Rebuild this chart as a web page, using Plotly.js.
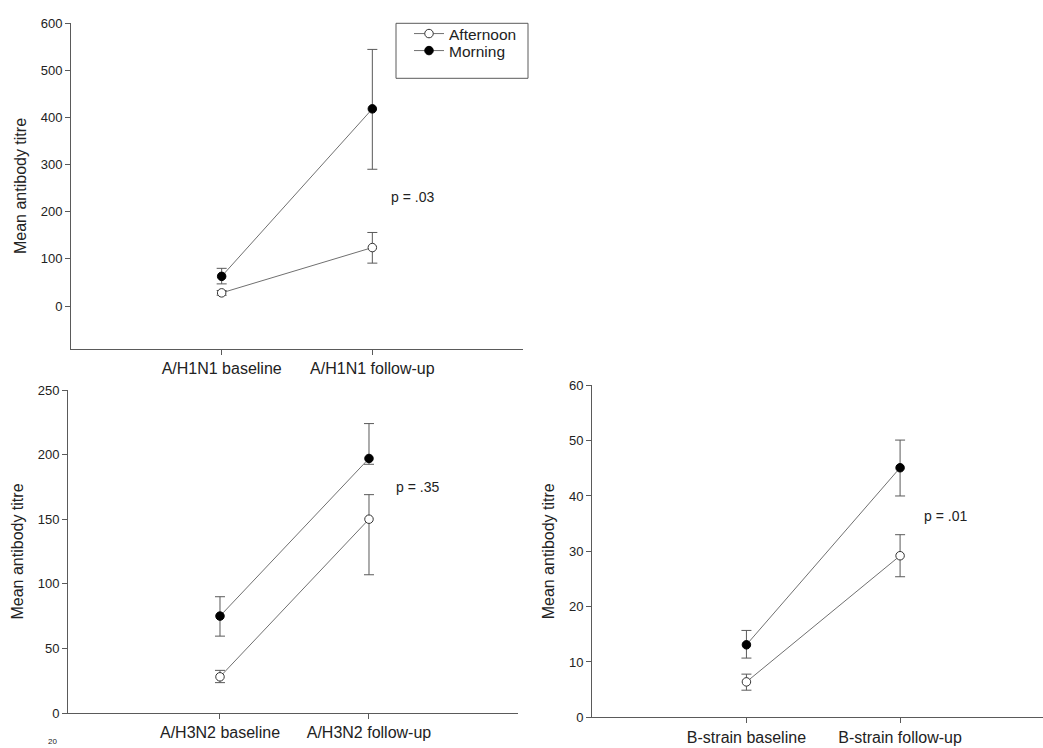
<!DOCTYPE html>
<html>
<head>
<meta charset="utf-8">
<script src="https://cdn.plot.ly/plotly-3.0.1.min.js"></script>
<style>html,body{margin:0;padding:0;background:#fff;}#chart{width:1043px;height:748px;}</style>
</head>
<body>
<div id="chart"></div>
<script>
// ---- data ----
const seriesNames = ["Afternoon", "Morning"];
const catPos = [0, 1];

const h1n1Labels = ["A/H1N1 baseline", "A/H1N1 follow-up"];
const h1n1Afternoon = [28, 124];
const h1n1AfternoonUpper = [33, 156];
const h1n1AfternoonLower = [23, 91];
const h1n1Morning = [63, 418];
const h1n1MorningUpper = [80, 544];
const h1n1MorningLower = [47, 290];

const h3n2Labels = ["A/H3N2 baseline", "A/H3N2 follow-up"];
const h3n2Afternoon = [28, 150];
const h3n2AfternoonUpper = [33, 169];
const h3n2AfternoonLower = [23.5, 107];
const h3n2Morning = [75, 197];
const h3n2MorningUpper = [90, 224];
const h3n2MorningLower = [59.5, 192.5];

const bLabels = ["B-strain baseline", "B-strain follow-up"];
const bAfternoon = [6.4, 29.2];
const bAfternoonUpper = [7.8, 33];
const bAfternoonLower = [4.9, 25.4];
const bMorning = [13.1, 45.1];
const bMorningUpper = [15.7, 50.1];
const bMorningLower = [10.7, 40];

const pLabels = ["p = .03", "p = .35", "p = .01"];
const yTitle = "Mean antibody titre";

// ---- build ----
const W = 1043, H = 748;
const px = v => v / W;
const py = v => 1 - v / H;
const FONT = "Liberation Sans, Arial, sans-serif";
const TXT = "#222";
const GRAY = "#5a5a5a";

function mk(y, up, lo, name, xa, ya, legendId) {
  const filled = name === "Morning";
  const t = {
    x: catPos, y: y, type: "scatter", mode: "lines+markers", name: name,
    xaxis: xa, yaxis: ya, showlegend: !!legendId, legendgroup: name,
    line: {color: "#707070", width: 1},
    marker: {size: 8.5, symbol: "circle", color: filled ? "#000" : "#fff",
             line: {color: filled ? "#000" : "#333", width: 1}},
    error_y: {type: "data", symmetric: false,
              array: y.map((v, i) => up[i] - v),
              arrayminus: y.map((v, i) => v - lo[i]),
              color: GRAY, thickness: 1, width: 5}
  };
  if (legendId) t.legend = legendId;
  return t;
}

const traces = [
  mk(h1n1Afternoon, h1n1AfternoonUpper, h1n1AfternoonLower, seriesNames[0], "x", "y", "legend"),
  mk(h1n1Morning, h1n1MorningUpper, h1n1MorningLower, seriesNames[1], "x", "y", "legend2"),
  mk(h3n2Afternoon, h3n2AfternoonUpper, h3n2AfternoonLower, seriesNames[0], "x2", "y2", null),
  mk(h3n2Morning, h3n2MorningUpper, h3n2MorningLower, seriesNames[1], "x2", "y2", null),
  mk(bAfternoon, bAfternoonUpper, bAfternoonLower, seriesNames[0], "x3", "y3", null),
  mk(bMorning, bMorningUpper, bMorningLower, seriesNames[1], "x3", "y3", null)
];

function xax(dom, rng, labels, anchor) {
  return {domain: dom, range: rng, anchor: anchor, tickvals: catPos, ticktext: labels,
          showline: true, linecolor: GRAY, linewidth: 1, ticks: "outside", ticklen: 5,
          tickcolor: GRAY, showgrid: false, zeroline: false,
          tickfont: {family: FONT, size: 16, color: TXT}, fixedrange: true};
}
function yax(dom, rng, dtick, anchor) {
  return {domain: dom, range: rng, anchor: anchor, dtick: dtick, tick0: 0,
          showline: true, linecolor: GRAY, linewidth: 1, ticks: "outside", ticklen: 5,
          tickcolor: GRAY, showgrid: false, zeroline: false,
          tickfont: {family: FONT, size: 13, color: TXT},
          title: {text: yTitle, font: {family: FONT, size: 16, color: TXT}, standoff: 10},
          fixedrange: true};
}

function leg(yc) {
  return {x: px(409), y: py(yc - 16), xanchor: "left", yanchor: "top",
          bgcolor: "rgba(0,0,0,0)", borderwidth: 0,
          font: {family: FONT, size: 15.5, color: TXT}, itemwidth: 30};
}

const layout = {
  width: W, height: H, margin: {l: 0, r: 0, t: 0, b: 0},
  paper_bgcolor: "#fff", plot_bgcolor: "#fff",
  font: {family: FONT, color: TXT},
  xaxis: xax([px(71), px(523)], [-1, 2], h1n1Labels, "y"),
  yaxis: yax([py(349), py(23)], [-91, 600], 100, "x"),
  xaxis2: xax([px(68), px(518)], [-1.02, 2], h3n2Labels, "y2"),
  yaxis2: yax([py(713), py(390)], [0, 250], 50, "x2"),
  xaxis3: xax([px(592), 1], [-1.005, 1.93], bLabels, "y3"),
  yaxis3: yax([py(717.3), py(385.3)], [0, 60], 10, "x3"),
  showlegend: true,
  legend: leg(33),
  legend2: leg(50),
  shapes: [{type: "rect", xref: "paper", yref: "paper",
            x0: px(396), x1: px(528), y0: py(78.3), y1: py(23.3),
            line: {color: GRAY, width: 1}, fillcolor: "rgba(0,0,0,0)"}],
  annotations: [
    {text: pLabels[0], xref: "x", yref: "y", x: 1.11, y: 231, xanchor: "left", yanchor: "middle",
     showarrow: false, font: {family: FONT, size: 14, color: TXT}},
    {text: pLabels[1], xref: "x2", yref: "y2", x: 1.17, y: 175, xanchor: "left", yanchor: "middle",
     showarrow: false, font: {family: FONT, size: 14, color: TXT}},
    {text: pLabels[2], xref: "x3", yref: "y3", x: 1.14, y: 36.3, xanchor: "left", yanchor: "middle",
     showarrow: false, font: {family: FONT, size: 14, color: TXT}},
    {text: "20", xref: "paper", yref: "paper", x: px(52), y: 0, xanchor: "center", yanchor: "bottom",
     showarrow: false, font: {family: FONT, size: 8, color: TXT}}
  ]
};

Plotly.newPlot("chart", traces, layout, {displayModeBar: false, staticPlot: true});
</script>
</body>
</html>
